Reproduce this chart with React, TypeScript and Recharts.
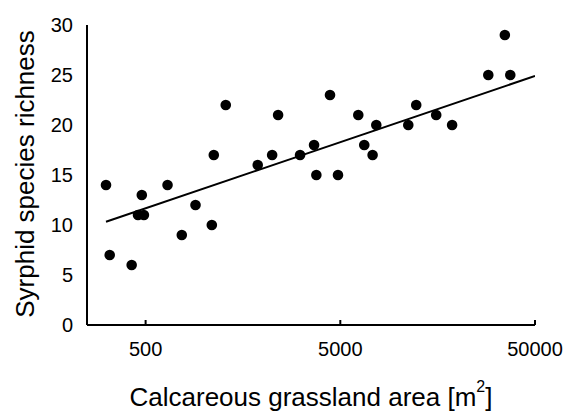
import { ScatterChart, Scatter, XAxis, YAxis, Label } from 'recharts'

// grassland patch area (m²) and syrphid richness
const areas = [
  313, 327, 424, 457, 490, 478, 648, 767, 902, 1094, 1120, 1290, 1883, 2233, 2396, 3107,
  3666, 3766, 4427, 4865, 6184, 6637, 7325, 7653, 11170, 12270, 15540, 18760, 28780, 35000, 37330,
]
const richness = [
  14, 7, 6, 11, 11, 13, 14, 9, 12, 10, 17, 22, 16, 17, 21, 17,
  18, 15, 23, 15, 21, 18, 17, 20, 20, 22, 21, 20, 25, 29, 25,
]

// regression line end points
const fitAreas = [313, 50000]
const fitRichness = [10.33, 24.9]

const xTicks = [500, 5000, 50000]
const yTicks = [0, 5, 10, 15, 20, 25, 30]

const points = areas.map((a, i) => ({ area: a, richness: richness[i] }))
const fitLine = fitAreas.map((a, i) => ({ area: a, richness: fitRichness[i] }))

const FONT = '"Liberation Sans", Arial, sans-serif'

const XTick = (props: any) => {
  const { x, y, payload } = props
  return (
    <g>
      <line x1={x} y1={y} x2={x} y2={y - 5} stroke="#000" strokeWidth={2} />
      <text x={x} y={y + 24} textAnchor="middle" dominantBaseline="central" fontSize={20} fill="#000">
        {payload.value}
      </text>
    </g>
  )
}

const Dot = (props: any) => <circle cx={props.cx} cy={props.cy} r={5.3} fill="#000" />

export default function App() {
  return (
    <div style={{ position: 'absolute', left: 0, top: 0, fontFamily: FONT, background: '#fff' }}>
      <ScatterChart width={566} height={413} margin={{ top: 25, right: 31, bottom: 0, left: 0 }}>
        <XAxis
          type="number"
          dataKey="area"
          scale="log"
          domain={[250, 50000]}
          allowDataOverflow
          ticks={xTicks}
          tick={<XTick />}
          tickLine={false}
          tickSize={0}
          tickMargin={0}
          height={88}
          axisLine={{ stroke: '#000', strokeWidth: 2 }}
        >
          <Label
            content={() => (
              <text x={311} y={397} textAnchor="middle" dominantBaseline="central" fontSize={26} fill="#000">
                Calcareous grassland area [m
                <tspan dy={-11} fontSize={16}>2</tspan>
                <tspan dy={11}>]</tspan>
              </text>
            )}
          />
        </XAxis>
        <YAxis
          type="number"
          dataKey="richness"
          domain={[0, 30]}
          ticks={yTicks}
          tickLine={false}
          tickSize={0}
          tickMargin={14}
          width={87}
          tick={{ fontSize: 20, fill: '#000' }}
          axisLine={{ stroke: '#000', strokeWidth: 2 }}
        >
          <Label
            content={() => (
              <text
                x={25}
                y={174}
                textAnchor="middle"
                dominantBaseline="central"
                fontSize={26}
                fill="#000"
                transform="rotate(-90 25 174)"
              >
                Syrphid species richness
              </text>
            )}
          />
        </YAxis>
        <Scatter data={points} shape={<Dot />} isAnimationActive={false} />
        <Scatter
          data={fitLine}
          line={{ stroke: '#000', strokeWidth: 2 }}
          shape={() => <g />}
          isAnimationActive={false}
        />
      </ScatterChart>
    </div>
  )
}
